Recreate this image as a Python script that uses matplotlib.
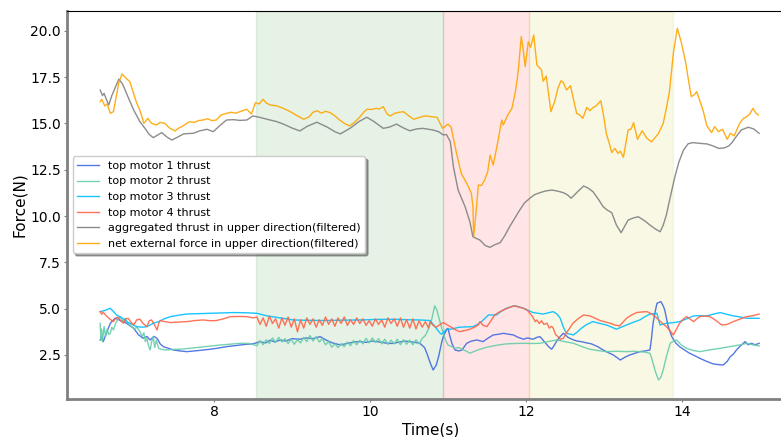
import numpy as np
import matplotlib
matplotlib.use("Agg")
import matplotlib.pyplot as plt

# ---- data ----
t_net = [6.54, 6.56, 6.60, 6.63, 6.67, 6.71, 6.74, 6.78, 6.82, 6.87, 6.92, 6.97, 7.01, 7.04, 7.07,
         7.10, 7.12, 7.15, 7.20, 7.26, 7.31, 7.37, 7.43, 7.50, 7.55, 7.60, 7.65, 7.69, 7.75, 7.80,
         7.86, 7.92, 7.97, 8.03, 8.09, 8.16, 8.22, 8.28, 8.33, 8.38, 8.42, 8.48, 8.53, 8.58, 8.63,
         8.67, 8.72, 8.80, 8.89, 8.97, 9.05, 9.15, 9.22, 9.27, 9.32, 9.38, 9.43, 9.49, 9.55, 9.62,
         9.68, 9.74, 9.80, 9.86, 9.92, 9.96, 10.02, 10.08, 10.12, 10.17, 10.22, 10.26, 10.32, 10.38, 10.43,
         10.50, 10.56, 10.62, 10.68, 10.73, 10.80, 10.86, 10.93, 11.00, 11.04, 11.08, 11.11, 11.17, 11.24, 11.30,
         11.32, 11.33, 11.36, 11.39, 11.43, 11.47, 11.51, 11.54, 11.58, 11.63, 11.69, 11.71, 11.76, 11.82, 11.86,
         11.89, 11.91, 11.94, 11.97, 11.99, 12.03, 12.06, 12.10, 12.14, 12.20, 12.22, 12.26, 12.29, 12.32, 12.37,
         12.41, 12.45, 12.48, 12.52, 12.57, 12.61, 12.65, 12.69, 12.73, 12.78, 12.82, 12.86, 12.90, 12.96, 13.00,
         13.03, 13.07, 13.10, 13.14, 13.18, 13.21, 13.25, 13.28, 13.31, 13.35, 13.38, 13.43, 13.49, 13.55, 13.61,
         13.65, 13.70, 13.76, 13.80, 13.84, 13.89, 13.94, 13.99, 14.05, 14.08, 14.12, 14.16, 14.19, 14.22, 14.27,
         14.32, 14.38, 14.42, 14.47, 14.52, 14.58, 14.62, 14.67, 14.74, 14.79, 14.83, 14.87, 14.91, 14.95, 14.98]
net_force = [16.17, 16.30, 15.94, 16.05, 15.54, 15.63, 16.30, 17.20, 17.66, 17.45, 17.25, 16.60, 16.08, 15.80, 15.45,
             15.00, 15.10, 15.27, 15.00, 14.91, 15.05, 15.00, 14.75, 14.59, 14.75, 14.85, 15.00, 15.09, 15.05, 15.15,
             15.18, 15.25, 15.15, 15.18, 15.45, 15.54, 15.60, 15.55, 15.63, 15.70, 15.76, 15.50, 16.11, 16.05, 16.30,
             16.10, 15.99, 15.95, 15.81, 15.65, 15.45, 15.22, 15.35, 15.60, 15.68, 15.55, 15.65, 15.58, 15.40, 15.15,
             14.98, 14.86, 15.05, 15.30, 15.60, 15.76, 15.75, 15.81, 15.78, 15.90, 15.50, 15.40, 15.55, 15.60, 15.63,
             15.40, 15.22, 15.30, 15.38, 15.40, 15.35, 15.33, 14.73, 14.96, 14.80, 14.00, 13.38, 12.30, 11.77, 11.23,
             10.50, 8.88, 10.20, 11.67, 11.65, 11.94, 12.40, 13.29, 12.75, 13.80, 15.18, 14.91, 15.40, 15.81, 16.60,
             17.43, 18.24, 19.68, 18.80, 18.06, 19.41, 19.10, 19.77, 18.15, 17.88, 17.27, 17.55, 16.60, 15.63, 16.20,
             16.90, 17.30, 17.20, 16.80, 17.03, 16.30, 15.54, 15.45, 15.27, 15.86, 15.68, 15.85, 15.94, 16.22, 15.30,
             14.46, 13.90, 13.42, 13.65, 13.38, 13.50, 13.17, 13.90, 14.64, 14.70, 15.04, 14.14, 14.60, 14.20, 14.00,
             14.20, 14.46, 15.00, 15.80, 16.71, 18.78, 20.13, 19.41, 18.24, 17.43, 16.44, 16.55, 16.71, 16.34, 15.72,
             14.86, 14.50, 14.82, 14.55, 14.68, 14.14, 14.46, 14.32, 15.00, 15.27, 15.36, 15.50, 15.81, 15.55, 15.45]

t_agg = [6.54, 6.57, 6.59, 6.62, 6.65, 6.69, 6.73, 6.78, 6.83, 6.90, 6.97, 7.05, 7.115, 7.17, 7.22,
         7.27, 7.33, 7.40, 7.46, 7.53, 7.61, 7.68, 7.74, 7.82, 7.91, 7.99, 8.08, 8.16, 8.25, 8.33,
         8.42, 8.50, 8.58, 8.70, 8.80, 8.89, 9.00, 9.10, 9.20, 9.32, 9.45, 9.55, 9.62, 9.75, 9.86,
         9.96, 10.05, 10.17, 10.25, 10.34, 10.43, 10.51, 10.60, 10.68, 10.81, 10.88, 10.94, 10.98, 11.03, 11.07,
         11.13, 11.22, 11.28, 11.32, 11.41, 11.48, 11.54, 11.60, 11.67, 11.73, 11.79, 11.86, 11.92, 11.98, 12.05,
         12.11, 12.18, 12.25, 12.33, 12.40, 12.48, 12.53, 12.58, 12.66, 12.74, 12.80, 12.86, 12.93, 12.99, 13.05,
         13.10, 13.16, 13.22, 13.26, 13.31, 13.38, 13.44, 13.52, 13.59, 13.66, 13.72, 13.76, 13.80, 13.86, 13.91,
         13.96, 14.02, 14.08, 14.14, 14.23, 14.32, 14.40, 14.47, 14.54, 14.60, 14.64, 14.68, 14.76, 14.85, 14.92,
         14.99]
agg_thrust = [16.80, 16.50, 16.62, 16.30, 15.99, 16.50, 16.90, 17.39, 17.10, 16.40, 15.72, 15.09, 14.73, 14.40, 14.23,
              14.35, 14.50, 14.25, 14.10, 14.25, 14.43, 14.45, 14.47, 14.60, 14.68, 14.55, 14.90, 15.18, 15.20, 15.16,
              15.18, 15.40, 15.33, 15.20, 15.10, 14.96, 14.75, 14.59, 14.85, 15.06, 14.80, 14.55, 14.43, 14.75, 15.10,
              15.33, 15.10, 14.73, 14.80, 14.96, 14.75, 14.60, 14.70, 14.73, 14.64, 14.55, 14.37, 14.40, 14.01, 12.66,
              11.40, 10.50, 9.70, 8.88, 8.70, 8.40, 8.31, 8.45, 8.56, 8.95, 9.42, 9.90, 10.32, 10.70, 10.96,
              11.15, 11.26, 11.35, 11.40, 11.35, 11.26, 11.15, 10.96, 11.30, 11.62, 11.50, 11.31, 10.90, 10.50, 10.30,
              10.18, 9.51, 9.10, 9.40, 9.78, 9.90, 9.96, 9.75, 9.51, 9.30, 9.15, 9.50, 10.05, 11.20, 12.12,
              12.90, 13.56, 13.90, 13.96, 13.92, 13.89, 13.78, 13.65, 13.67, 13.78, 13.95, 14.19, 14.64, 14.79, 14.70,
              14.46]

t_m1 = [6.54, 6.56, 6.58, 6.60, 6.62, 6.67, 6.73, 6.78, 6.84, 6.90, 6.97, 7.03, 7.09, 7.14, 7.18,
        7.23, 7.27, 7.31, 7.35, 7.42, 7.48, 7.56, 7.65, 7.80, 7.95, 8.05, 8.16, 8.30, 8.42, 8.50,
        8.59, 8.66, 8.72, 8.78, 8.85, 8.92, 9.00, 9.10, 9.18, 9.27, 9.36, 9.44, 9.52, 9.62, 9.70,
        9.80, 9.87, 9.95, 10.02, 10.09, 10.16, 10.23, 10.30, 10.38, 10.45, 10.51, 10.58, 10.64, 10.70, 10.73,
        10.77, 10.81, 10.85, 10.88, 10.92, 10.94, 10.98, 11.00, 11.02, 11.05, 11.09, 11.14, 11.18, 11.24, 11.30,
        11.37, 11.45, 11.51, 11.58, 11.65, 11.71, 11.78, 11.84, 11.90, 11.97, 12.02, 12.09, 12.14, 12.18, 12.24,
        12.29, 12.33, 12.36, 12.39, 12.44, 12.48, 12.54, 12.61, 12.66, 12.71, 12.78, 12.84, 12.92, 12.99, 13.06,
        13.12, 13.17, 13.21, 13.27, 13.33, 13.40, 13.46, 13.53, 13.59, 13.61, 13.63, 13.66, 13.68, 13.73, 13.76,
        13.78, 13.82, 13.87, 13.92, 13.97, 14.04, 14.10, 14.17, 14.23, 14.32, 14.40, 14.47, 14.53, 14.58, 14.62,
        14.66, 14.70, 14.74, 14.78, 14.81, 14.85, 14.89, 14.94, 14.99]
motor1 = [3.31, 3.50, 3.22, 3.45, 3.67, 4.21, 4.48, 4.40, 4.30, 4.15, 3.94, 3.60, 3.40, 3.50, 3.31,
          3.50, 3.40, 3.10, 2.95, 2.85, 2.77, 2.72, 2.68, 2.74, 2.81, 2.87, 2.95, 3.02, 3.08, 3.10,
          3.22, 3.15, 3.30, 3.20, 3.31, 3.25, 3.38, 3.35, 3.42, 3.38, 3.49, 3.30, 3.15, 3.04, 3.12,
          3.20, 3.22, 3.18, 3.25, 3.22, 3.18, 3.12, 3.13, 3.20, 3.25, 3.22, 3.18, 3.13, 2.90, 2.59,
          2.10, 1.69, 1.96, 2.41, 3.20, 3.49, 3.85, 3.94, 3.60, 3.13, 2.77, 2.72, 2.77, 3.13, 3.25,
          3.31, 3.22, 3.40, 3.58, 3.62, 3.67, 3.62, 3.58, 3.45, 3.35, 3.42, 3.35, 3.45, 3.49, 3.20,
          2.95, 2.81, 3.00, 3.22, 3.50, 3.67, 3.45, 3.31, 3.25, 3.22, 3.15, 3.10, 2.95, 2.77, 2.62,
          2.50, 2.35, 2.23, 2.38, 2.50, 2.60, 2.68, 2.72, 2.77, 3.40, 4.21, 4.90, 5.29, 5.38, 5.15,
          4.93, 4.10, 3.49, 3.15, 2.95, 2.75, 2.59, 2.45, 2.32, 2.15, 2.02, 1.98, 1.96, 2.15, 2.41,
          2.55, 2.77, 2.95, 3.10, 3.22, 3.05, 3.13, 3.05, 3.13]

t_m2_a = [6.54, 6.55, 6.56, 6.57, 6.59, 6.61, 6.63, 6.65, 6.67, 6.69, 6.71, 6.74, 6.77, 6.80, 6.83,
          6.86, 6.90, 6.94, 6.98, 7.01, 7.05, 7.08, 7.10, 7.12, 7.14, 7.16, 7.18, 7.20, 7.22, 7.24,
          7.26, 7.29, 7.33, 7.39, 7.47, 7.56, 7.69, 7.82, 7.95, 8.08, 8.20, 8.33, 8.45]
motor2_a = [4.21, 3.30, 3.90, 3.22, 4.03, 3.50, 3.90, 3.60, 3.67, 4.00, 3.85, 4.21, 4.45, 4.57, 4.30,
            4.48, 4.20, 4.03, 3.90, 4.00, 3.76, 3.50, 3.70, 3.22, 3.40, 3.00, 2.77, 3.20, 3.49, 2.90,
            3.30, 2.86, 2.80, 2.77, 2.80, 2.81, 2.86, 2.92, 2.98, 3.04, 3.08, 3.13, 3.12]
# noisy stretch 8.55 s .. 10.71 s, evenly sampled
motor2_noisy = [3.00, 3.28, 3.05, 3.32, 3.12, 3.42, 3.18, 3.45, 3.20, 3.38, 3.12, 3.35, 3.08, 3.32, 3.15,
                3.45, 3.22, 3.55, 3.25, 3.50, 3.20, 3.40, 3.05, 3.22, 2.92, 3.10, 2.90, 3.12, 2.95, 3.20,
                3.00, 3.28, 3.05, 3.30, 3.10, 3.40, 3.15, 3.42, 3.18, 3.38, 3.10, 3.35, 3.08, 3.30, 3.10,
                3.35, 3.05, 3.32, 3.08, 3.30, 3.05, 3.32, 3.10, 3.40, 3.55]
t_m2_b = [10.75, 10.79, 10.83, 10.86, 10.88, 10.91, 10.94, 10.97, 11.00, 11.05, 11.09, 11.14, 11.20, 11.24, 11.28,
          11.34, 11.41, 11.50, 11.58, 11.66, 11.75, 11.86, 11.97, 12.08, 12.18, 12.28, 12.39, 12.50, 12.61, 12.72,
          12.82, 12.92, 13.03, 13.16, 13.29, 13.38, 13.46, 13.53, 13.59, 13.61, 13.63, 13.66, 13.70, 13.73, 13.76,
          13.80, 13.85, 13.89, 13.93, 13.99, 14.06, 14.14, 14.23, 14.36, 14.49, 14.57, 14.66, 14.75, 14.83, 14.91,
          14.99]
motor2_b = [3.90, 4.39, 5.15, 4.90, 4.57, 4.10, 3.67, 3.30, 3.04, 2.95, 2.86, 2.90, 2.77, 2.70, 2.59,
            2.70, 2.81, 2.92, 2.99, 3.05, 3.10, 3.12, 3.13, 3.12, 3.13, 3.22, 3.31, 3.22, 3.13, 2.95,
            2.81, 2.74, 2.68, 2.70, 2.68, 2.70, 2.68, 2.65, 2.59, 2.35, 2.05, 1.60, 1.15, 1.30, 1.69,
            2.40, 3.13, 3.25, 3.31, 3.05, 2.86, 2.75, 2.68, 2.78, 2.86, 2.92, 2.99, 3.05, 3.13, 3.05,
            2.99]

t_m3 = [6.54, 6.60, 6.67, 6.71, 6.75, 6.82, 6.88, 6.95, 7.01, 7.08, 7.14, 7.18, 7.22, 7.29, 7.36,
        7.44, 7.55, 7.65, 7.80, 7.95, 8.10, 8.25, 8.40, 8.55, 8.68, 8.85, 9.02, 9.20, 9.44, 9.65,
        9.87, 10.10, 10.30, 10.50, 10.64, 10.77, 10.85, 10.90, 10.92, 10.98, 11.03, 11.15, 11.32, 11.38, 11.43,
        11.48, 11.52, 11.62, 11.68, 11.75, 11.86, 11.97, 12.09, 12.22, 12.35, 12.40, 12.44, 12.48, 12.52, 12.61,
        12.66, 12.71, 12.78, 12.86, 12.95, 13.03, 13.10, 13.16, 13.22, 13.29, 13.38, 13.46, 13.52, 13.59, 13.68,
        13.70, 13.72, 13.80, 13.90, 13.97, 14.06, 14.15, 14.24, 14.32, 14.40, 14.49, 14.57, 14.66, 14.75, 14.83,
        14.99]
motor3 = [4.84, 4.90, 5.02, 4.85, 4.66, 4.50, 4.30, 4.15, 4.03, 4.00, 4.03, 4.12, 4.21, 4.30, 4.45,
          4.57, 4.65, 4.71, 4.73, 4.75, 4.77, 4.79, 4.78, 4.75, 4.61, 4.50, 4.39, 4.37, 4.36, 4.38,
          4.39, 4.42, 4.43, 4.40, 4.39, 4.36, 3.94, 3.67, 3.62, 3.89, 3.89, 4.00, 4.03, 4.15, 4.30,
          4.50, 4.66, 4.66, 4.85, 5.02, 5.16, 5.02, 4.79, 4.71, 4.84, 4.70, 4.48, 4.00, 3.67, 3.58,
          3.75, 3.94, 4.15, 4.30, 4.20, 4.12, 4.00, 3.89, 4.00, 4.12, 4.27, 4.39, 4.55, 4.71, 4.75,
          4.40, 4.12, 4.21, 4.25, 4.30, 4.45, 4.61, 4.62, 4.61, 4.70, 4.79, 4.70, 4.61, 4.55, 4.48,
          4.48]

t_m4_a = [6.54, 6.56, 6.58, 6.62, 6.66, 6.71, 6.74, 6.77, 6.80, 6.84, 6.87, 6.90, 6.94, 6.97, 7.01,
          7.05, 7.09, 7.14, 7.17, 7.20, 7.24, 7.27, 7.29, 7.31, 7.37, 7.44, 7.55, 7.65, 7.76, 7.86,
          7.95, 8.03, 8.12, 8.21, 8.32, 8.42, 8.50]
motor4_a = [4.84, 4.70, 4.80, 4.61, 4.45, 4.30, 4.50, 4.54, 4.35, 4.21, 4.45, 4.48, 4.25, 4.12, 4.40,
            4.43, 4.20, 4.03, 4.35, 4.39, 4.10, 3.85, 4.20, 4.36, 4.30, 4.25, 4.28, 4.30, 4.36, 4.39,
            4.35, 4.36, 4.45, 4.57, 4.58, 4.57, 4.50]
# noisy stretch 8.55 s .. 10.75 s, evenly sampled
motor4_noisy = [4.55, 4.15, 4.50, 4.05, 4.60, 4.20, 4.45, 3.95, 4.50, 4.10, 4.55, 4.00, 4.45, 3.75, 4.40,
                3.95, 4.50, 4.15, 4.45, 4.00, 4.40, 4.10, 4.55, 4.15, 4.45, 4.05, 4.50, 4.20, 4.55, 4.10,
                4.40, 4.15, 4.50, 4.20, 4.45, 4.10, 4.35, 4.05, 4.45, 4.15, 4.40, 4.00, 4.50, 4.20, 4.45,
                4.05, 4.50, 4.00, 4.40, 3.95, 4.45, 3.90, 4.35, 4.00, 4.30, 3.95]
t_m4_b = [10.77, 10.81, 10.85, 10.90, 10.94, 11.03, 11.10, 11.15, 11.22, 11.28, 11.34, 11.39, 11.41, 11.45, 11.50,
          11.55, 11.60, 11.65, 11.71, 11.78, 11.84, 11.90, 11.97, 12.02, 12.05, 12.08, 12.10, 12.12, 12.14, 12.17,
          12.20, 12.23, 12.27, 12.30, 12.33, 12.35, 12.38, 12.41, 12.44, 12.48, 12.52, 12.56, 12.60, 12.65, 12.70,
          12.74, 12.82, 12.88, 12.95, 13.02, 13.08, 13.14, 13.20, 13.25, 13.29, 13.35, 13.42, 13.48, 13.55, 13.62,
          13.68, 13.74, 13.80, 13.85, 13.89, 13.93, 13.97, 14.02, 14.06, 14.10, 14.15, 14.19, 14.23, 14.30, 14.36,
          14.44, 14.51, 14.58, 14.66, 14.75, 14.83, 14.91, 14.99]
motor4_b = [4.30, 4.10, 4.00, 4.15, 4.25, 4.03, 3.85, 3.76, 3.82, 3.89, 4.00, 4.12, 4.30, 4.10, 4.03,
            4.35, 4.66, 4.80, 4.93, 5.05, 5.15, 5.10, 5.02, 4.90, 4.75, 4.60, 4.45, 4.30, 4.39, 4.20,
            4.35, 4.15, 4.21, 3.95, 4.05, 3.94, 3.60, 3.49, 3.35, 3.40, 3.70, 3.94, 4.20, 4.39, 4.55,
            4.66, 4.61, 4.50, 4.36, 4.28, 4.21, 4.12, 4.07, 4.30, 4.48, 4.65, 4.79, 4.82, 4.84, 4.70,
            4.48, 4.25, 4.03, 3.80, 3.58, 3.90, 4.21, 4.45, 4.57, 4.45, 4.30, 4.45, 4.57, 4.60, 4.57,
            4.35, 4.12, 4.15, 4.30, 4.45, 4.57, 4.62, 4.71]

phases = [(8.54, 10.94, "g"), (10.94, 12.04, "r"), (12.04, 13.88, "y")]

labels = ["top motor 1 thrust", "top motor 2 thrust", "top motor 3 thrust", "top motor 4 thrust",
          "aggregated thrust in upper direction(filtered)", "net external force in upper direction(filtered)"]

# stitch the noisy stretches in
t_m2 = t_m2_a + list(np.linspace(8.55, 10.71, len(motor2_noisy))) + t_m2_b
motor2 = motor2_a + motor2_noisy + motor2_b
t_m4 = t_m4_a + list(np.linspace(8.55, 10.75, len(motor4_noisy))) + t_m4_b
motor4 = motor4_a + motor4_noisy + motor4_b

fig = plt.figure(figsize=(7.81, 4.37), dpi=100)
# axes runs a little past the right edge of the picture, as in the reference
ax = fig.add_axes([67 / 781, 38 / 437, 728 / 781, 388.5 / 437])

for x0, x1, c in phases:
    ax.axvspan(x0, x1, color=c, alpha=0.1)

lw = 1.0
ax.plot(t_m1, motor1, color="royalblue", lw=lw, alpha=0.9, label=labels[0])
ax.plot(t_m2, motor2, color="mediumaquamarine", lw=lw, alpha=0.9, label=labels[1])
ax.plot(t_m3, motor3, color="deepskyblue", lw=lw, alpha=0.9, label=labels[2])
ax.plot(t_m4, motor4, color="tomato", lw=lw, alpha=0.9, label=labels[3])
ax.plot(t_agg, agg_thrust, color="grey", lw=lw, alpha=0.9, label=labels[4])
ax.plot(t_net, net_force, color="orange", lw=lw, alpha=0.9, label=labels[5])

ax.set_xlim(6.115, 15.45)
ax.set_ylim(0.125, 21.09)
ax.set_xticks([8, 10, 12, 14])
ax.set_yticks([2.5, 5.0, 7.5, 10.0, 12.5, 15.0, 17.5, 20.0])
ax.tick_params(labelsize=10, length=2.5, pad=2, color="grey")
ax.set_xlabel("Time(s)", fontsize=11, labelpad=2)
ax.set_ylabel("Force(N)", fontsize=11, labelpad=2)

for s in ["left", "bottom"]:
    ax.spines[s].set_color("grey")
    ax.spines[s].set_linewidth(2)

ax.legend(loc="center left", fontsize=8, shadow=True, framealpha=1)

fig.savefig("out.png", dpi=100)
